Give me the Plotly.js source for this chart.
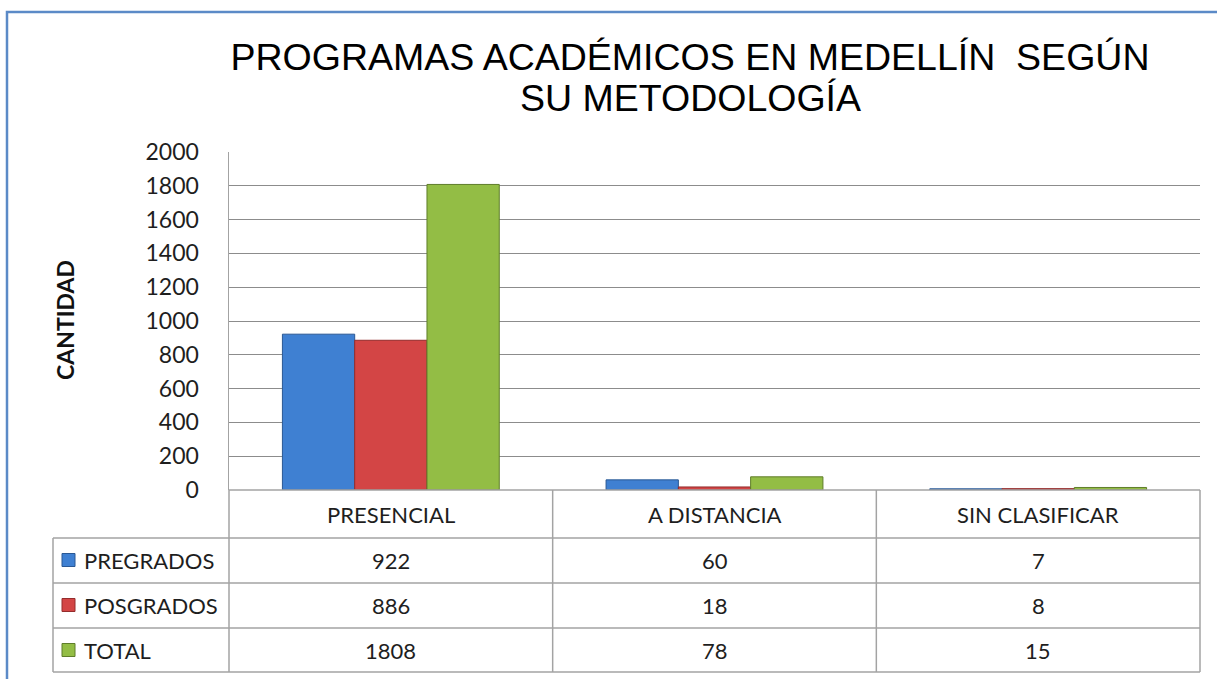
<!DOCTYPE html>
<html><head><meta charset="utf-8">
<script src="https://cdn.plot.ly/plotly-3.0.1.min.js"></script>
<style>html,body{margin:0;padding:0;background:#fff;}#chart{width:1217px;height:679px;}</style>
</head><body><div id="chart"></div>
<script>
// ---- data ----
const categories = ['PRESENCIAL', 'A DISTANCIA', 'SIN CLASIFICAR'];
const seriesNames = ['PREGRADOS', 'POSGRADOS', 'TOTAL'];
const pregrados = [922, 60, 7];
const posgrados = [886, 18, 8];
const total = [1808, 78, 15];
const yTickValues = [0, 200, 400, 600, 800, 1000, 1200, 1400, 1600, 1800, 2000];
const titleLine1 = 'PROGRAMAS ACADÉMICOS EN MEDELLÍN\u00a0\u00a0SEGÚN';
const titleLine2 = 'SU METODOLOGÍA';
const yTitle = 'CANTIDAD';

// ---- styles / geometry ----
const seriesValues = [pregrados, posgrados, total];
const fills = ['#3f80d2', '#d34545', '#93bd45'];
const edges = ['#2a5894', '#942c2c', '#5f7d2a'];
const W = 1217, H = 679, L = 229, R = 1200, T = 152, B = 490;
const px = p => (p - L) / (R - L);
const py = p => (B - p) / (B - T);
const gridCol = '#8c8c8c';
const tableCol = '#a3a3a3';
const txtFont = {family: 'Lato, "Open Sans", sans-serif', size: 22, color: '#1e1e1e'};

const traces = seriesNames.map((n, i) => ({
  type: 'bar', name: n, x: categories, y: seriesValues[i],
  marker: {color: fills[i], line: {color: edges[i], width: 1}},
  hoverinfo: 'x+y+name'
}));

const shapes = [];
const annotations = [];
// outer blue frame
shapes.push({type: 'rect', xref: 'paper', yref: 'paper', x0: px(7), x1: px(1240), y0: py(700), y1: py(12),
  line: {color: '#5b8ac7', width: 2.5}, fillcolor: 'rgba(0,0,0,0)'});

// table geometry
const rowLines = [538, 583, 628, 672];
const rowCenters = [560, 605, 650];
const nC = categories.length;
shapes.push({type: 'line', xref: 'paper', yref: 'paper', x0: 0, x1: 1, y0: 0, y1: 0, line: {color: tableCol, width: 1.5}});
rowLines.forEach(r => shapes.push({type: 'line', xref: 'paper', yref: 'paper', x0: px(53), x1: 1, y0: py(r), y1: py(r), line: {color: tableCol, width: 1.5}}));
for (let i = 0; i <= nC; i++) {
  shapes.push({type: 'line', xref: 'paper', yref: 'paper', x0: i / nC, x1: i / nC, y0: 0, y1: py(672), line: {color: tableCol, width: 1.5}});
}
shapes.push({type: 'line', xref: 'paper', yref: 'paper', x0: px(53), x1: px(53), y0: py(538), y1: py(672), line: {color: tableCol, width: 1.5}});

// header row
categories.forEach(c => annotations.push({xref: 'x', yref: 'paper', x: c, y: py(514), text: c, showarrow: false,
  xanchor: 'center', yanchor: 'middle', font: txtFont}));
// rows
seriesNames.forEach((n, i) => {
  const yc = rowCenters[i];
  shapes.push({type: 'rect', xref: 'paper', yref: 'paper', x0: px(62), x1: px(75), y0: py(yc + 6.5), y1: py(yc - 6.5),
    fillcolor: fills[i], line: {color: edges[i], width: 1}});
  annotations.push({xref: 'paper', yref: 'paper', x: px(82), y: py(yc), text: n, showarrow: false,
    xanchor: 'left', yanchor: 'middle', font: txtFont});
  categories.forEach((c, j) => annotations.push({xref: 'x', yref: 'paper', x: c, y: py(yc), text: String(seriesValues[i][j]),
    showarrow: false, xanchor: 'center', yanchor: 'middle', font: txtFont}));
});
// y title
annotations.push({xref: 'paper', yref: 'paper', x: px(65), y: py(320), text: '<b>' + yTitle + '</b>', textangle: -90,
  showarrow: false, xanchor: 'center', yanchor: 'middle',
  font: {family: 'Lato, "Open Sans", sans-serif', size: 23, color: '#111'}});
// title line 2
annotations.push({xref: 'paper', yref: 'paper', x: px(690), y: py(98), text: titleLine2, showarrow: false,
  xanchor: 'center', yanchor: 'middle', font: {family: '"Liberation Sans", Arial, sans-serif', size: 37.5, color: '#000'}});

const layout = {
  width: W, height: H,
  margin: {l: L, r: W - R, t: T, b: H - B, pad: 0},
  paper_bgcolor: '#fff', plot_bgcolor: '#fff',
  title: {text: titleLine1, xref: 'paper', x: px(690), xanchor: 'center', yref: 'container', y: 1 - 57 / H, yanchor: 'middle',
    font: {family: '"Liberation Sans", Arial, sans-serif', size: 37.5, color: '#000'}},
  showlegend: false,
  barmode: 'group', bargap: 0.33, bargroupgap: 0,
  xaxis: {type: 'category', range: [-0.5, nC - 0.5], showticklabels: false, showgrid: false, zeroline: false,
    showline: false, ticks: '', fixedrange: true},
  yaxis: {range: [0, 2000], tickvals: yTickValues, ticktext: yTickValues.map(String), showgrid: true, gridcolor: gridCol, gridwidth: 1,
    zeroline: false, showline: true, linecolor: tableCol, linewidth: 1.5, ticks: '', ticklabelstandoff: 24,
    tickfont: {family: 'Lato, "Open Sans", sans-serif', size: 23, color: '#1e1e1e'}, fixedrange: true},
  shapes: shapes, annotations: annotations
};
Plotly.newPlot('chart', traces, layout, {displayModeBar: false, staticPlot: true});
</script></body></html>
